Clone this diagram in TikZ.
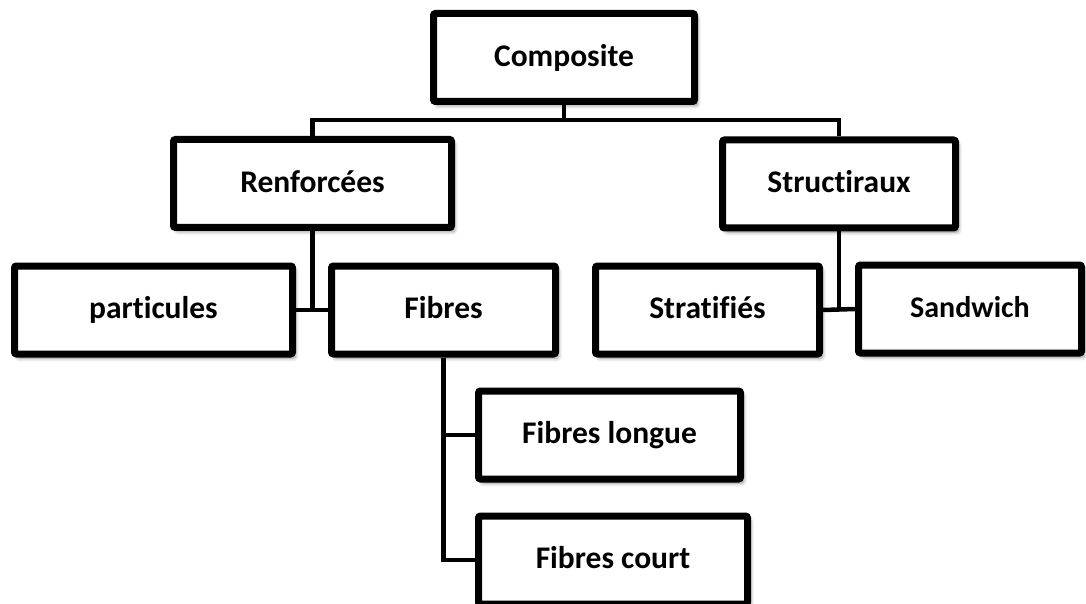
\documentclass[tikz,border=0pt]{standalone}
\usepackage{fontspec}
\setmainfont{Carlito}[Ligatures=NoCommon]
\usetikzlibrary{shadows.blur}

\begin{document}
\begin{tikzpicture}[x=0.5pt,y=-0.5pt,
        box/.style={draw, line width=3.5pt, rounded corners=1pt, fill=white, inner sep=0pt,
            minimum height=44pt, text height=11.2pt, text depth=2.4pt,
            font=\bfseries\fontsize{15.75}{18}\selectfont,
            blur shadow={shadow xshift=1.5pt, shadow yshift=-2pt, shadow blur steps=6, shadow opacity=45}},
        link/.style={line width=2.25pt}]
        \useasboundingbox (0,0) rectangle (1086,604);

        \node[box, minimum width=130.5pt] (comp) at (564,57.5) {Composite};
        \node[box, minimum width=139pt] (renf) at (312.5,183.5) {Renforcées};
        \node[box, minimum width=116.5pt] (struc) at (839,184) {Structiraux};

        \node[box, minimum width=139pt] (part) at (153.5,310) {particules};
        \node[box, minimum width=112pt] (fib) at (443.5,310) {Fibres};
        \node[box, minimum width=112pt] (strat) at (707.5,310) {Stratifiés};
        \node[box, minimum width=111.5pt, font=\bfseries\fontsize{15}{18}\selectfont] (sand) at (970,309) {Sandwich};

        \node[box, minimum width=131pt] (flong) at (609.5,435) {Fibres longue};
        \node[box, minimum width=134.5pt] (fcourt) at (613,560) {Fibres court};

        \coordinate (bar) at (564,120);
        \draw[link] (comp.south) -- (bar);
        \draw[link] (renf.north) |- (bar) -| (struc.north);

        \draw[link] (renf.south) -- (renf.south |- part.east);
        \draw[link] (part.east) -- (fib.west);
        \draw[link] (struc.south) -- (struc.south |- strat.east);
        \draw[link] (strat.east) -- (sand.west);

        \draw[link] (fib.south) |- (fcourt.west);
        \draw[link] (flong.west) -- (flong.west -| fib.south);
    \end{tikzpicture}
\end{document}
